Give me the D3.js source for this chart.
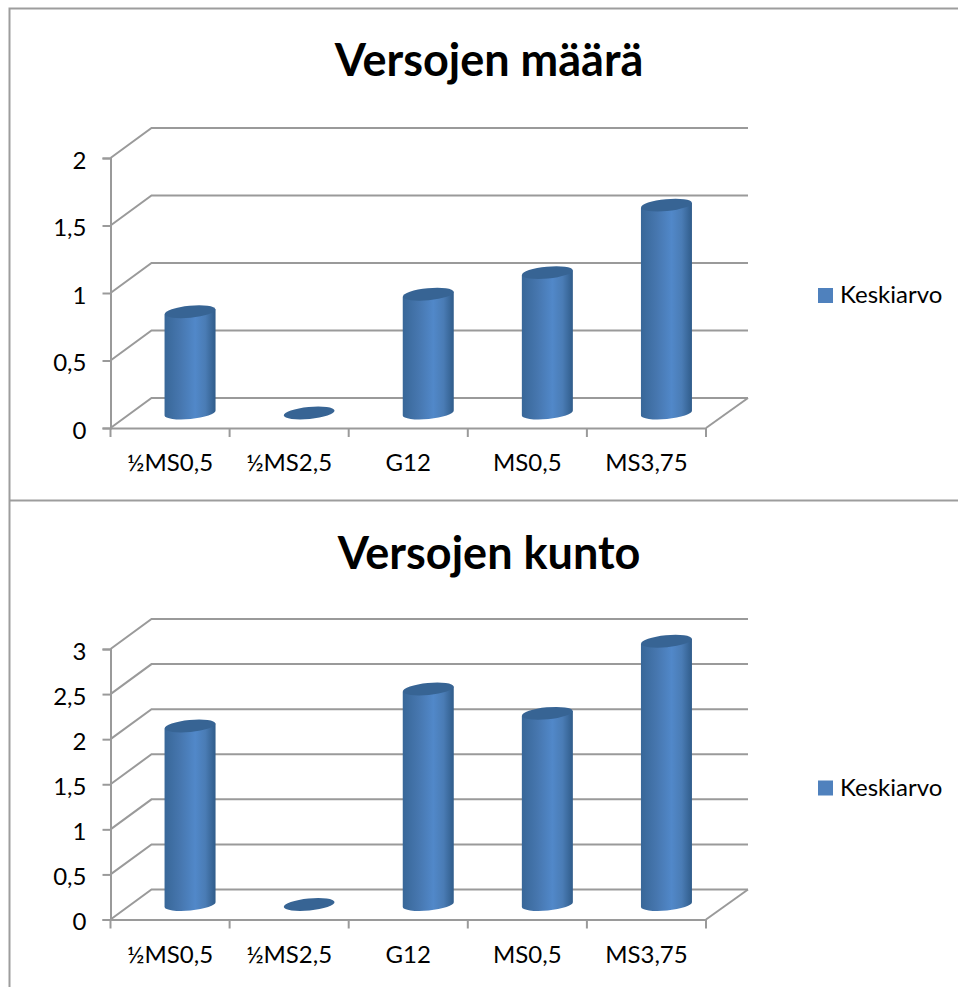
<!DOCTYPE html>
<html lang="fi">
<head>
<meta charset="utf-8">
<title>Versojen määrä ja kunto</title>
<script src="https://cdn.jsdelivr.net/npm/d3@7/dist/d3.min.js"></script>
<style>
  body { margin: 0; background: #fff; }
  svg { display: block; }
  text { font-family: Lato, "Open Sans", sans-serif; fill: #000; }
</style>
</head>
<body>
<svg width="958" height="987"></svg>
<script>
var categories = ["½MS0,5", "½MS2,5", "G12", "MS0,5", "MS3,75"];
var seriesName = "Keskiarvo";

var maaraValues = [0.75, 0, 0.88, 1.04, 1.54];
var maaraTicks = [0, 0.5, 1, 1.5, 2];

var kuntoValues = [1.98, 0, 2.39, 2.12, 2.92];
var kuntoTicks = [0, 0.5, 1, 1.5, 2, 2.5, 3];

var svg = d3.select("svg");
var gridColor = "#9a9a9a";

// 3d look: the back wall sits this far from the front axis
var depthX = 41, depthY = -30;
// cylinders stand in the middle of the floor
var floorX = 20, floorY = -15;
var radius = 25.5, ry = 6, tilt = -5.5;
var dy = radius * Math.sin(-tilt * Math.PI / 180);

var grad = svg.append("defs").append("linearGradient").attr("id", "cyl");
[[0, "#386798"], [0.3, "#4676ae"], [0.6, "#5188c9"], [0.8, "#4a7cb5"], [1, "#305c8a"]].forEach(function (s) {
  grad.append("stop").attr("offset", s[0]).attr("stop-color", s[1]);
});

// chart frame
svg.append("path")
  .attr("d", "M958,8.5H9.5V987M9.5,500.5H958")
  .attr("fill", "none")
  .attr("stroke", "#9d9d9d")
  .attr("stroke-width", 2);

function drawChart(opts) {
  var x = d3.scaleBand().domain(categories).range([110.5, 706]);
  var y = d3.scaleLinear().domain(opts.domain).range([opts.y0, opts.y1]);
  var g = svg.append("g");

  g.append("text")
    .attr("x", 489).attr("y", opts.titleY)
    .attr("text-anchor", "middle")
    .style("font-size", "45px").style("font-weight", "700")
    .text(opts.title);

  // side wall and back wall grid
  g.selectAll("path.grid").data(opts.ticks).enter().append("path")
    .attr("class", "grid")
    .attr("d", function (t) {
      return "M110.5," + y(t) + "l" + depthX + "," + depthY + "H748";
    })
    .attr("fill", "none").attr("stroke", gridColor).attr("stroke-width", 2);

  // floor, right edge
  g.append("path")
    .attr("d", "M706," + y(0) + "L748," + (y(0) + depthY))
    .attr("fill", "none").attr("stroke", gridColor).attr("stroke-width", 2);

  var axisY = d3.axisLeft(y).tickValues(opts.ticks).tickSize(8).tickPadding(16)
    .tickFormat(function (t) { return String(t).replace(".", ","); });
  var gy = g.append("g").attr("transform", "translate(110.5,0)").call(axisY);

  var axisX = d3.axisBottom(x).tickSize(0).tickPadding(26);
  var gx = g.append("g").attr("transform", "translate(0," + y(0) + ")").call(axisX);

  // band edges carry the ticks in the original
  gx.selectAll("line.edge").data(d3.range(categories.length + 1)).enter().append("line")
    .attr("class", "edge")
    .attr("x1", function (i) { return 110.5 + i * x.step(); })
    .attr("x2", function (i) { return 110.5 + i * x.step(); })
    .attr("y1", 0).attr("y2", 9);

  [gy, gx].forEach(function (a) {
    a.selectAll(".domain, line").attr("stroke", gridColor).attr("stroke-width", 2);
    a.selectAll("text").style("font-size", "24px").attr("font-family", null);
  });
  gy.selectAll("text").attr("dy", "0.42em");
  gx.selectAll("text").attr("dy", "0.71em");

  // cylinders
  var cx = function (i) { return x(categories[i]) + x.bandwidth() / 2 + floorX; };
  var base = y(0) + floorY;
  var top = function (v) { return y(v) + floorY; };

  opts.values.forEach(function (v, i) {
    var c = g.append("g").attr("class", "bar");
    if (v > 0) {
      c.append("path")
        .attr("d", "M" + (cx(i) - radius) + "," + (top(v) + dy) +
          "V" + (base + dy) +
          "A" + radius + "," + ry + "," + tilt + ",0,0," + (cx(i) + radius) + "," + (base - dy) +
          "V" + (top(v) - dy) + "Z")
        .attr("fill", "url(#cyl)");
    }
    c.append("ellipse")
      .attr("cx", cx(i)).attr("cy", top(v))
      .attr("rx", radius).attr("ry", ry)
      .attr("transform", "rotate(" + tilt + " " + cx(i) + " " + top(v) + ")")
      .attr("fill", "#376494");
  });

  // legend
  g.append("rect")
    .attr("x", 818).attr("y", opts.legendY - 7.5)
    .attr("width", 15).attr("height", 15)
    .attr("fill", "#4f81bd");
  g.append("text")
    .attr("x", 840).attr("y", opts.legendY + 7.5)
    .style("font-size", "24px")
    .text(seriesName);
}

drawChart({
  title: "Versojen määrä", titleY: 75.5,
  values: maaraValues, ticks: maaraTicks, domain: [0, 2],
  y0: 428, y1: 158, legendY: 295.5
});

drawChart({
  title: "Versojen kunto", titleY: 568.5,
  values: kuntoValues, ticks: kuntoTicks, domain: [0, 3],
  y0: 919.5, y1: 649, legendY: 788
});
</script>
</body>
</html>
